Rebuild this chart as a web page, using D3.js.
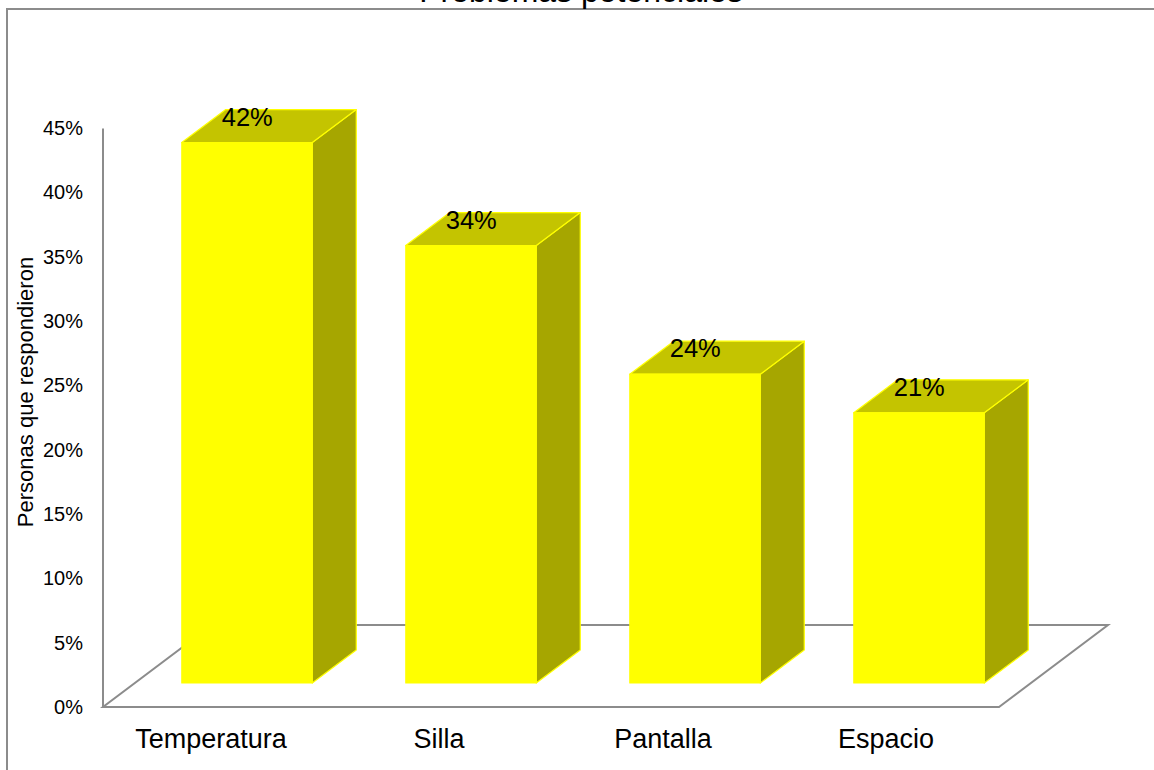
<!DOCTYPE html>
<html><head><meta charset="utf-8">
<script src="https://cdnjs.cloudflare.com/ajax/libs/d3/7.8.5/d3.min.js"></script>
<style>html,body{margin:0;padding:0;background:#fff}svg{display:block}text{font-family:"Liberation Sans",Arial,sans-serif;fill:#000}</style>
</head><body><div id="c"></div>
<script>
const categories = ["Temperatura", "Silla", "Pantalla", "Espacio"];
const values = [42, 34, 24, 21];
const yTicks = [0, 5, 10, 15, 20, 25, 30, 35, 40, 45];
const titleText = "Problemas potenciales";
const yTitle = "Personas que respondieron";

const W = 1154, H = 770;
const svg = d3.select("#c").append("svg").attr("width", W).attr("height", H);
const grey = "#8c8c8c";

const x = d3.scaleBand().domain(categories).range([103, 999]).paddingInner(0).paddingOuter(0);
const y = d3.scaleLinear().domain([0, 45]).range([707, 128]);
const barW = 130.5, floorDx = 109, floorDy = 82, baseDx = 32, baseDy = 24, depthDx = 44, depthDy = 33;
const labelNudge = [-4, 0, 0, -1];

svg.append("rect").attr("x", 7).attr("y", 9).attr("width", 1160).attr("height", 780)
  .attr("fill", "#fff").attr("stroke", grey).attr("stroke-width", 2);

svg.append("text").attr("x", 581).attr("y", 2).attr("text-anchor", "middle")
  .attr("font-size", 32).text(titleText);

const floor = d3.line()([[x.range()[0], y(0)], [x.range()[1], y(0)],
  [x.range()[1] + floorDx, y(0) - floorDy], [x.range()[0] + floorDx, y(0) - floorDy]]) + "Z";
svg.append("path").attr("d", floor).attr("fill", "none").attr("stroke", grey).attr("stroke-width", 2);

const yAxis = d3.axisLeft(y).tickValues(yTicks).tickFormat(d => d + "%").tickSize(0).tickPadding(19.5);
const ga = svg.append("g").attr("transform", "translate(102.5,0)").call(yAxis);
ga.select(".domain").attr("stroke", grey).attr("stroke-width", 2);
ga.selectAll("text").attr("font-size", 20).attr("font-family", '"Liberation Sans",Arial,sans-serif').attr("fill", "#1a1a1a");

const xAxis = d3.axisBottom(x).tickSize(0).tickPadding(21.5);
const gx = svg.append("g").attr("transform", `translate(0,${y(0)})`).call(xAxis);
gx.select(".domain").remove();
gx.selectAll("text").attr("font-size", 27).attr("dx", (d, i) => labelNudge[i])
  .attr("font-family", '"Liberation Sans",Arial,sans-serif').attr("fill", "#000");

const bars = svg.selectAll("g.bar").data(categories.map((c, i) => ({c, v: values[i]}))).join("g").attr("class", "bar");
const pts = d => {
  const l = x(d.c) + x.bandwidth() / 2 + baseDx - barW / 2, r = l + barW, t = y(d.v) - baseDy, b = y(0) - baseDy;
  return {l, r, t, b};
};
bars.append("path").attr("d", d => { const p = pts(d);
  return d3.line()([[p.r, p.t], [p.r + depthDx, p.t - depthDy], [p.r + depthDx, p.b - depthDy], [p.r, p.b]]) + "Z"; })
  .attr("fill", "#a6a600").attr("stroke", "#ffff00").attr("stroke-width", 1.2).attr("stroke-linejoin", "round");
bars.append("path").attr("d", d => { const p = pts(d);
  return d3.line()([[p.l, p.t], [p.l + depthDx, p.t - depthDy], [p.r + depthDx, p.t - depthDy], [p.r, p.t]]) + "Z"; })
  .attr("fill", "#c4c400").attr("stroke", "#ffff00").attr("stroke-width", 1.2).attr("stroke-linejoin", "round");
bars.append("rect").attr("x", d => pts(d).l).attr("y", d => pts(d).t)
  .attr("width", barW).attr("height", d => pts(d).b - pts(d).t)
  .attr("fill", "#ffff00").attr("stroke", "#ffff00").attr("stroke-width", 1);
bars.append("text").attr("x", d => pts(d).l + 65.5).attr("y", d => pts(d).t - 17)
  .attr("text-anchor", "middle").attr("font-size", 25.5).text(d => d.v + "%");

svg.append("text").attr("transform", "translate(32.5,392) rotate(-90)").attr("text-anchor", "middle")
  .attr("font-size", 22).attr("fill", "#1a1a1a").text(yTitle);
</script></body></html>
